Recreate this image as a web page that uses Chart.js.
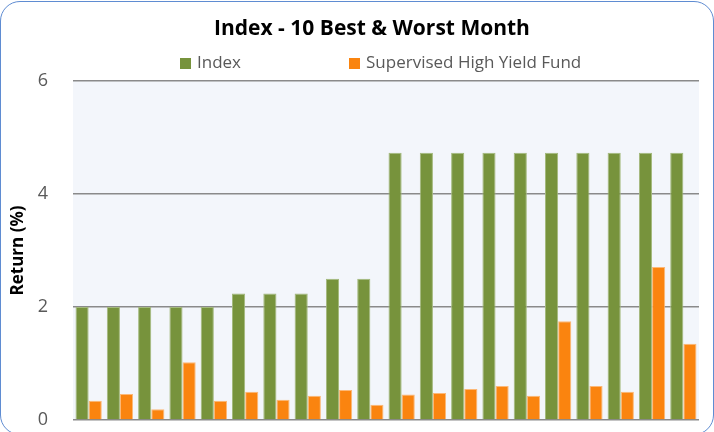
<!DOCTYPE html>
<html>
<head>
<meta charset="utf-8">
<script src="https://cdn.jsdelivr.net/npm/chart.js@4.4.1/dist/chart.umd.min.js"></script>
<style>
  html, body { margin: 0; padding: 0; background: #fff; overflow: hidden; }
  #wrap { position: relative; width: 714px; height: 432px; overflow: hidden; font-family: "Open Sans", sans-serif; }
  #frame { position: absolute; left: 0; top: 1px; width: 714px; height: 434px; box-sizing: border-box;
           border: 1.5px solid #5f8cd2; border-radius: 20px; }
  #myChart { position: absolute; left: 0; top: 0; }
  #title { position: absolute; left: 0; top: 12px; width: 744px; text-align: center;
           font-weight: bold; font-size: 21px; color: #000; line-height: 30px; }
  .item { position: absolute; top: 50px; font-size: 17px; color: #595959; line-height: 24px; white-space: nowrap; }
  .box { display: inline-block; width: 11px; height: 11px; margin-right: 6px; vertical-align: -1px; }
</style>
</head>
<body>
<div id="wrap">
  <div id="frame"></div>
  <canvas id="myChart" width="714" height="432"></canvas>
  <div id="title">Index - 10 Best &amp; Worst Month</div>
  <div class="item" style="left:180px"><span class="box" style="background:#77933c"></span>Index</div>
  <div class="item" style="left:349px"><span class="box" style="background:#fa840f"></span>Supervised High Yield Fund</div>
</div>
<script>
var months = ['1', '2', '3', '4', '5', '6', '7', '8', '9', '10',
              '11', '12', '13', '14', '15', '16', '17', '18', '19', '20'];
var indexReturns = [2.0, 2.0, 2.0, 2.0, 2.0, 2.24, 2.24, 2.24, 2.5, 2.5,
                    4.73, 4.73, 4.73, 4.73, 4.73, 4.73, 4.73, 4.73, 4.73, 4.73];
var fundReturns = [0.34, 0.46, 0.19, 1.02, 0.34, 0.50, 0.36, 0.43, 0.53, 0.27,
                   0.45, 0.48, 0.55, 0.60, 0.43, 1.75, 0.60, 0.50, 2.71, 1.35];
var yTicks = [0, 2, 4, 6];

// light blue fill behind the plot area
var plotBackground = {
    id: 'plotBackground',
    beforeDraw: function (chart) {
        var a = chart.chartArea;
        chart.ctx.save();
        chart.ctx.fillStyle = '#f3f6fb';
        chart.ctx.fillRect(a.left, a.top, a.right - a.left, a.bottom - a.top);
        chart.ctx.restore();
    }
};

var ctx = document.getElementById('myChart').getContext('2d');
var myChart = new Chart(ctx, {
    type: 'bar',
    data: {
        labels: months,
        datasets: [{
            label: 'Index',
            data: indexReturns,
            backgroundColor: '#77933c',
            borderColor: '#a3b97c',
            borderWidth: 1
        }, {
            label: 'Supervised High Yield Fund',
            data: fundReturns,
            backgroundColor: '#fa840f',
            borderColor: '#fcb877',
            borderWidth: 1
        }]
    },
    options: {
        responsive: false,
        animation: false,
        devicePixelRatio: 1,
        layout: {
            padding: { top: 81, bottom: 12, left: 0, right: 15 }
        },
        datasets: {
            bar: { categoryPercentage: 0.84, barPercentage: 1.0 }
        },
        plugins: {
            legend: { display: false },
            title: { display: false },
            tooltip: { enabled: false }
        },
        scales: {
            x: {
                ticks: { display: false },
                grid: { display: false, drawTicks: false },
                border: { display: false }
            },
            y: {
                min: 0,
                max: 6,
                afterBuildTicks: function (scale) {
                    scale.ticks = yTicks.map(function (v) { return { value: v }; });
                },
                afterFit: function (scale) {
                    scale.width = 73;
                    // the big tick padding should not push the plot up
                    scale.paddingTop = 0;
                    scale.paddingBottom = 0;
                },
                ticks: {
                    padding: 25,
                    color: '#595959',
                    font: { family: 'Open Sans', size: 18 }
                },
                grid: { color: '#8a8a8a', lineWidth: 1.5, drawTicks: false },
                border: { display: false },
                title: {
                    display: true,
                    text: 'Return (%)',
                    color: '#000',
                    padding: { top: 8, bottom: 0 },
                    font: { family: 'Open Sans', size: 17, weight: 'bold' }
                }
            }
        }
    },
    plugins: [plotBackground]
});
</script>
</body>
</html>
